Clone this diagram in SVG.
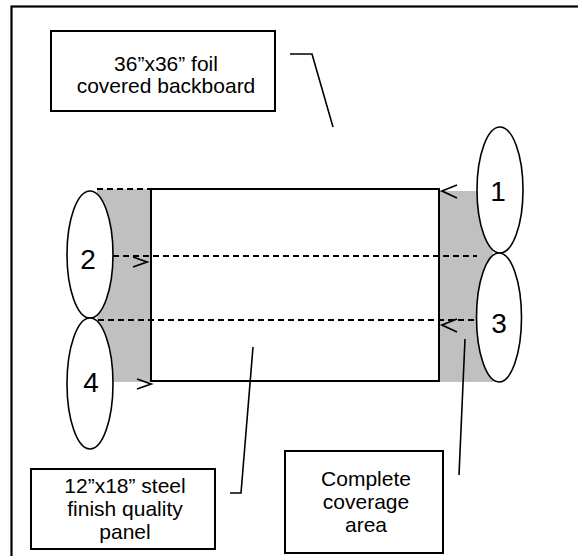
<svg xmlns="http://www.w3.org/2000/svg" width="578" height="556" viewBox="0 0 578 556">
<style>
.box{fill:#fff;stroke:#000;stroke-width:2}
.ell{fill:#fff;stroke:#000;stroke-width:1.6}
.gray{fill:#c0c0c0;stroke:none}
.dash{fill:none;stroke:#000;stroke-width:1.8;stroke-dasharray:6 4}
.line{fill:none;stroke:#000;stroke-width:1.6}
.chev{fill:none;stroke:#000;stroke-width:1.8}
.t{font-family:"Liberation Sans",Arial,sans-serif;font-size:21px;text-anchor:middle;fill:#000}
.n{font-family:"Liberation Sans",Arial,sans-serif;font-size:28px;text-anchor:middle;fill:#000}
</style>
<rect width="578" height="556" fill="#fff"/>
<rect id="frame" x="11.5" y="6.5" width="600" height="600" fill="none" stroke="#000" stroke-width="2.2"/>
<g id="coverage-gray">
<rect class="gray" x="97" y="189" width="54" height="193"/>
<rect class="gray" x="439" y="191" width="54" height="191"/>
</g>
<g id="panel">
<rect x="151" y="189" width="288" height="192" fill="#fff" stroke="#000" stroke-width="2"/>
</g>
<g id="connectors">
<line class="dash" x1="97" y1="189" x2="439" y2="189"/>
<line class="dash" x1="113" y1="256" x2="477" y2="256"/>
<line class="dash" x1="98" y1="320" x2="477" y2="320"/>
<polyline class="chev" points="133,257 147,262 133,267"/>
<polyline class="chev" points="137,379 151,384 137,389"/>
<polyline class="chev" points="457,185 442,191 457,198"/>
<polyline class="chev" points="457,319 442,325 457,332"/>
<polyline class="line" points="290,54 312,54 333,127"/>
<polyline class="line" points="230,493 241,493 253,347"/>
<line class="line" x1="465" y1="339" x2="459" y2="475"/>
</g>
<g id="ellipse-1"><ellipse class="ell" cx="500" cy="190" rx="23" ry="63"/><text class="n" x="498" y="201">1</text></g>
<g id="ellipse-3"><ellipse class="ell" cx="499" cy="317.5" rx="22.5" ry="64.5"/><text class="n" x="499" y="333">3</text></g>
<g id="ellipse-2"><ellipse class="ell" cx="90" cy="254.5" rx="23" ry="63.5"/><text class="n" x="88" y="269">2</text></g>
<g id="ellipse-4"><ellipse class="ell" cx="90" cy="383.5" rx="23" ry="65.5"/><text class="n" x="91" y="392">4</text></g>
<g id="label-backboard">
<rect class="box" x="51" y="31" width="224" height="80"/>
<text class="t" x="166" y="71">36”x36” foil</text>
<text class="t" x="166" y="93">covered backboard</text>
</g>
<g id="label-panel">
<rect class="box" x="31" y="469" width="184" height="80"/>
<text class="t" x="125" y="493">12”x18” steel</text>
<text class="t" x="125" y="516">finish quality</text>
<text class="t" x="125" y="539">panel</text>
</g>
<g id="label-coverage">
<rect class="box" x="285" y="451" width="158" height="102"/>
<text class="t" x="366" y="486">Complete</text>
<text class="t" x="366" y="509">coverage</text>
<text class="t" x="366" y="532">area</text>
</g>
</svg>
